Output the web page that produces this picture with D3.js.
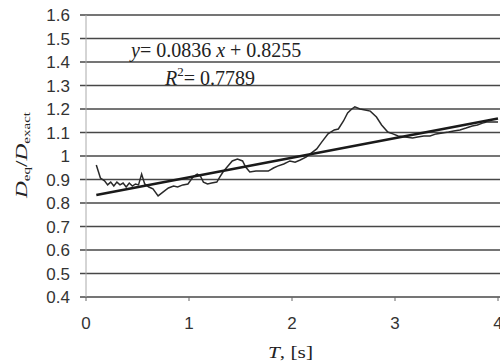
<!DOCTYPE html>
<html>
<head>
<meta charset="utf-8">
<script src="https://cdn.jsdelivr.net/npm/d3@7"></script>
<style>
    body { margin: 0; background: #fff; }
</style>
</head>
<body>
<svg id="chart" width="500" height="361"></svg>
<script>
// measured curve, T in seconds
const timeValues = [0.10, 0.14, 0.18, 0.21, 0.24, 0.27, 0.30, 0.33, 0.36, 0.39, 0.42, 0.45, 0.48, 0.51,
    0.54, 0.57, 0.61, 0.65, 0.70, 0.75, 0.80, 0.85, 0.89, 0.94, 0.99, 1.04, 1.08, 1.11, 1.14, 1.18,
    1.22, 1.27, 1.30, 1.33, 1.37, 1.42, 1.47, 1.52, 1.55, 1.59, 1.65, 1.71, 1.77, 1.82, 1.86, 1.92,
    1.98, 2.03, 2.08, 2.14, 2.19, 2.24, 2.29, 2.35, 2.41, 2.45, 2.50, 2.54, 2.58, 2.61, 2.66, 2.71,
    2.76, 2.82, 2.87, 2.93, 2.98, 3.03, 3.10, 3.17, 3.22, 3.28, 3.34, 3.40, 3.46, 3.52, 3.57, 3.63,
    3.69, 3.75, 3.80, 3.85, 3.89, 3.94, 4.00];
const ratioValues = [0.962, 0.906, 0.894, 0.877, 0.889, 0.872, 0.889, 0.877, 0.885, 0.868, 0.885, 0.872, 0.881, 0.877,
    0.923, 0.881, 0.868, 0.860, 0.830, 0.847, 0.864, 0.872, 0.868, 0.877, 0.881, 0.911, 0.923, 0.915, 0.889, 0.881,
    0.885, 0.889, 0.911, 0.932, 0.953, 0.979, 0.987, 0.979, 0.953, 0.932, 0.936, 0.936, 0.936, 0.949, 0.957, 0.966,
    0.979, 0.974, 0.983, 0.996, 1.013, 1.030, 1.060, 1.094, 1.111, 1.115, 1.149, 1.183, 1.200, 1.209, 1.200, 1.196,
    1.191, 1.166, 1.132, 1.102, 1.094, 1.085, 1.081, 1.077, 1.081, 1.085, 1.085, 1.094, 1.098, 1.102, 1.106, 1.111,
    1.119, 1.128, 1.132, 1.140, 1.145, 1.145, 1.145];

// linear trend line
const trendSlope = 0.0836;
const trendIntercept = 0.8255;
const trendRange = [0.1, 4];

const xTicks = [0, 1, 2, 3, 4];
const yTicks = [0.4, 0.5, 0.6, 0.7, 0.8, 0.9, 1, 1.1, 1.2, 1.3, 1.4, 1.5, 1.6];

const serif = "'Liberation Serif', 'Times New Roman', serif";
const sans = "'Liberation Sans', Arial, sans-serif";

const svg = d3.select("#chart");

const x = d3.scaleLinear().domain([0, 4]).range([86, 498]);
const y = d3.scaleLinear().domain([0.4, 1.6]).range([297, 15]);

// horizontal grid
svg.append("g")
    .selectAll("line")
    .data(yTicks)
    .join("line")
    .attr("x1", 80)
    .attr("x2", 500)
    .attr("y1", d => y(d))
    .attr("y2", d => y(d))
    .attr("stroke", "#474747")
    .attr("stroke-width", 1.4);

// y axis line
svg.append("line")
    .attr("x1", x(0)).attr("x2", x(0))
    .attr("y1", y(1.6)).attr("y2", y(0.4))
    .attr("stroke", "#aaa")
    .attr("stroke-width", 1);

// x tick marks
svg.append("g")
    .selectAll("line")
    .data(xTicks)
    .join("line")
    .attr("x1", d => x(d))
    .attr("x2", d => x(d))
    .attr("y1", y(0.4))
    .attr("y2", y(0.4) + 4)
    .attr("stroke", "#666");

svg.append("g")
    .selectAll("text")
    .data(yTicks)
    .join("text")
    .text(d => d)
    .attr("x", 70)
    .attr("y", d => y(d))
    .attr("dy", "0.36em")
    .attr("text-anchor", "end")
    .attr("font-family", sans)
    .attr("font-size", "17px")
    .attr("fill", "#333");

svg.append("g")
    .selectAll("text")
    .data(xTicks)
    .join("text")
    .text(d => d)
    .attr("x", d => x(d))
    .attr("y", 329)
    .attr("text-anchor", "middle")
    .attr("font-family", sans)
    .attr("font-size", "17px")
    .attr("fill", "#333");

const plot = svg.append("g");

const curve = d3.line()
    .x(d => x(d[0]))
    .y(d => y(d[1]))
    .curve(d3.curveLinear);

plot.append("path")
    .datum(d3.zip(timeValues, ratioValues))
    .attr("d", curve)
    .attr("fill", "none")
    .attr("stroke", "#2a2a2a")
    .attr("stroke-width", 1.5);

plot.append("path")
    .datum(trendRange.map(t => [t, trendSlope * t + trendIntercept]))
    .attr("d", curve)
    .attr("fill", "none")
    .attr("stroke", "#1a1a1a")
    .attr("stroke-width", 2.6);

// trend equation
const eq = svg.append("text")
    .attr("x", 131)
    .attr("y", 57)
    .attr("font-family", serif)
    .attr("font-size", "20px")
    .attr("fill", "#222");
eq.append("tspan").attr("font-style", "italic").text("y");
eq.append("tspan").text("= 0.0836 ");
eq.append("tspan").attr("font-style", "italic").text("x");
eq.append("tspan").text(" + 0.8255");

const r2 = svg.append("text")
    .attr("x", 165)
    .attr("y", 85)
    .attr("font-family", serif)
    .attr("font-size", "20px")
    .attr("fill", "#222");
r2.append("tspan").attr("font-style", "italic").text("R");
r2.append("tspan").attr("font-size", "13px").attr("dy", -9).text("2");
r2.append("tspan").attr("dy", 9).text("= 0.7789");

// axis titles
const yTitle = svg.append("text")
    .attr("transform", "translate(27,198) rotate(-90)")
    .attr("font-family", serif)
    .attr("font-size", "17px")
    .attr("fill", "#222")
    .attr("textLength", 86)
    .attr("lengthAdjust", "spacingAndGlyphs");
yTitle.append("tspan").attr("font-style", "italic").text("D");
yTitle.append("tspan").attr("font-size", "11px").attr("dy", 3).text("eq");
yTitle.append("tspan").attr("dy", -3).text("/");
yTitle.append("tspan").attr("font-style", "italic").text("D");
yTitle.append("tspan").attr("font-size", "11px").attr("dy", 3).text("exact");

const xTitle = svg.append("text")
    .attr("x", 268)
    .attr("y", 358)
    .attr("font-family", serif)
    .attr("font-size", "17px")
    .attr("fill", "#222")
    .attr("textLength", 45)
    .attr("lengthAdjust", "spacingAndGlyphs");
xTitle.append("tspan").attr("font-style", "italic").text("T");
xTitle.append("tspan").text(", [s]");
</script>
</body>
</html>
